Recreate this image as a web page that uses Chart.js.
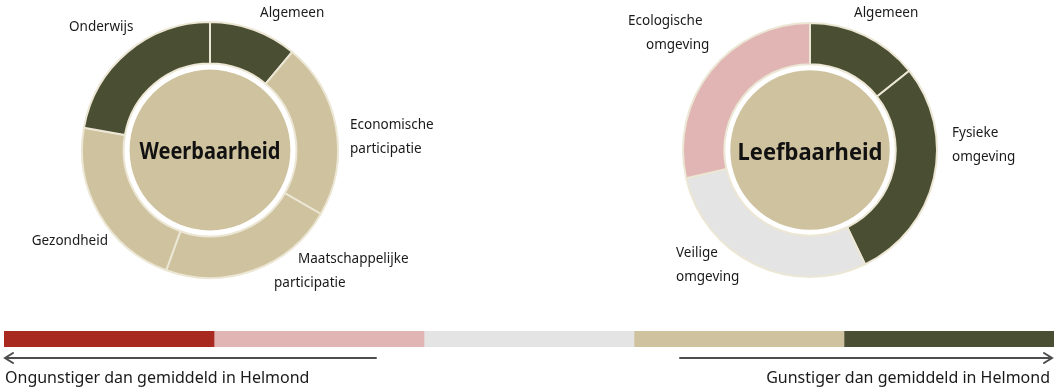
<!DOCTYPE html>
<html>
<head>
<meta charset="utf-8">
<script src="https://cdn.jsdelivr.net/npm/chart.js@4.4.1/dist/chart.umd.min.js"></script>
<style>
	body { margin: 0; background: #fff; width: 1063px; height: 389px; overflow: hidden; position: relative; }
	.box { position: absolute; }
</style>
</head>
<body>
<div class="box" style="left:0;top:0;width:460px;height:300px"><canvas id="weerbaarheid"></canvas></div>
<div class="box" style="left:590px;top:0;width:473px;height:300px"><canvas id="leefbaarheid"></canvas></div>
<div class="box" style="left:0;top:320px;width:1063px;height:69px"><canvas id="schaal"></canvas></div>
<script>
// colour scale: 0 = much worse ... 4 = better than the Helmond average
const scaleColors = ['#a8291f', '#e0b5b4', '#e4e4e4', '#cfc29f', '#4a4e33'];
const scaleSteps = [1, 1, 1, 1, 1];
const scaleTexts = ['Ongunstiger dan gemiddeld in Helmond', 'Gunstiger dan gemiddeld in Helmond'];

const weerbaarheidLabels = [['Algemeen'], ['Economische', 'participatie'], ['Maatschappelijke', 'participatie'], ['Gezondheid'], ['Onderwijs']];
const weerbaarheidWeights = [0.5, 1, 1, 1, 1];
const weerbaarheidScores = [4, 3, 3, 3, 4];
const weerbaarheidTotal = 3;

const leefbaarheidLabels = [['Algemeen'], ['Fysieke', 'omgeving'], ['Veilige', 'omgeving'], ['Ecologische', 'omgeving']];
const leefbaarheidWeights = [0.5, 1, 1, 1];
const leefbaarheidScores = [4, 4, 2, 1];
const leefbaarheidTotal = 3;

// label placement, offsets from the ring centre per text line
const weerbaarheidLabelPos = [
	{ align: 'left', lines: [[50, -137]] },
	{ align: 'left', lines: [[140, -25], [140, -1]] },
	{ align: 'left', lines: [[88, 109], [64, 133]] },
	{ align: 'right', lines: [[-102, 91]] },
	{ align: 'left', lines: [[-141, -123]] }
];
const leefbaarheidLabelPos = [
	{ align: 'left', lines: [[44, -137]] },
	{ align: 'left', lines: [[142, -17], [142, 7]] },
	{ align: 'left', lines: [[-134, 103], [-134, 127]] },
	{ align: 'left', lines: [[-182, -129], [-164, -105]] }
];

Chart.defaults.font.family = "'Noto Sans', sans-serif";

const ringDecor = {
	id: 'ringDecor',
	afterDatasetsDraw(chart, args, opts) {
		const ctx = chart.ctx;
		const arc = chart.getDatasetMeta(0).data[0];
		const x = arc.x, y = arc.y;
		ctx.save();
		ctx.beginPath();
		ctx.arc(x, y, arc.innerRadius - 6, 0, Math.PI * 2);
		ctx.fillStyle = scaleColors[opts.total];
		ctx.fill();

		ctx.fillStyle = '#111';
		ctx.font = "bold 23px 'Noto Sans'";
		ctx.textAlign = 'center';
		ctx.textBaseline = 'middle';
		ctx.fillText(opts.title, x, y + opts.titleDy, opts.titleWidth);

		ctx.font = "13.5px 'Noto Sans'";
		ctx.fillStyle = '#1a1a1a';
		chart.data.labels.forEach((lab, i) => {
			const pos = opts.positions[i];
			ctx.textAlign = pos.align;
			lab.forEach((line, j) => ctx.fillText(line, x + pos.lines[j][0], y + pos.lines[j][1]));
		});
		ctx.restore();
	}
};

function makeRing(id, labels, weights, scores, opts, padRight, pad) {
	return new Chart(document.getElementById(id), {
		type: 'doughnut',
		data: {
			labels: labels,
			datasets: [{
				data: weights,
				backgroundColor: scores.map(s => scaleColors[s]),
				borderColor: '#ece6d4',
				borderWidth: 2
			}]
		},
		options: {
			responsive: true,
			maintainAspectRatio: false,
			animation: false,
			cutout: '67.5%',
			layout: { padding: { top: pad, bottom: pad, left: 0, right: padRight } },
			plugins: {
				legend: { display: false },
				tooltip: { enabled: false },
				ringDecor: opts
			}
		},
		plugins: [ringDecor]
	});
}

makeRing('weerbaarheid', weerbaarheidLabels, weerbaarheidWeights, weerbaarheidScores,
	{ title: 'Weerbaarheid', total: weerbaarheidTotal, titleDy: 2, titleWidth: 141, positions: weerbaarheidLabelPos }, 40, 21);
makeRing('leefbaarheid', leefbaarheidLabels, leefbaarheidWeights, leefbaarheidScores,
	{ title: 'Leefbaarheid', total: leefbaarheidTotal, titleDy: 3, titleWidth: 145, positions: leefbaarheidLabelPos }, 33, 22);

// arrows and captions under the colour scale
const scaleArrows = {
	id: 'scaleArrows',
	afterDraw(chart) {
		const ctx = chart.ctx;
		const a = chart.chartArea;
		const ay = a.bottom + 11;
		ctx.save();
		ctx.strokeStyle = '#4d4d4d';
		ctx.lineWidth = 2;
		ctx.lineCap = 'round';
		ctx.beginPath();
		ctx.moveTo(a.left + 372, ay);
		ctx.lineTo(a.left + 1, ay);
		ctx.moveTo(a.left + 9, ay - 5);
		ctx.lineTo(a.left + 1, ay);
		ctx.lineTo(a.left + 9, ay + 5);
		ctx.moveTo(680, ay);
		ctx.lineTo(a.right - 2, ay);
		ctx.moveTo(a.right - 10, ay - 5);
		ctx.lineTo(a.right - 2, ay);
		ctx.lineTo(a.right - 10, ay + 5);
		ctx.stroke();

		ctx.fillStyle = '#1a1a1a';
		ctx.font = "16px 'Noto Sans'";
		ctx.textBaseline = 'alphabetic';
		ctx.textAlign = 'left';
		ctx.fillText(scaleTexts[0], a.left + 1, a.bottom + 36);
		ctx.textAlign = 'right';
		ctx.fillText(scaleTexts[1], a.right - 4, a.bottom + 36);
		ctx.restore();
	}
};

new Chart(document.getElementById('schaal'), {
	type: 'bar',
	data: {
		labels: [''],
		datasets: scaleSteps.map((v, i) => ({
			data: [v],
			backgroundColor: scaleColors[i],
			barPercentage: 1,
			categoryPercentage: 1
		}))
	},
	options: {
		indexAxis: 'y',
		responsive: true,
		maintainAspectRatio: false,
		animation: false,
		layout: { padding: { left: 4, right: 9, top: 11, bottom: 42 } },
		scales: {
			x: { stacked: true, display: false, min: 0, max: scaleSteps.reduce((s, v) => s + v, 0) },
			y: { stacked: true, display: false }
		},
		plugins: { legend: { display: false }, tooltip: { enabled: false } }
	},
	plugins: [scaleArrows]
});
</script>
</body>
</html>
